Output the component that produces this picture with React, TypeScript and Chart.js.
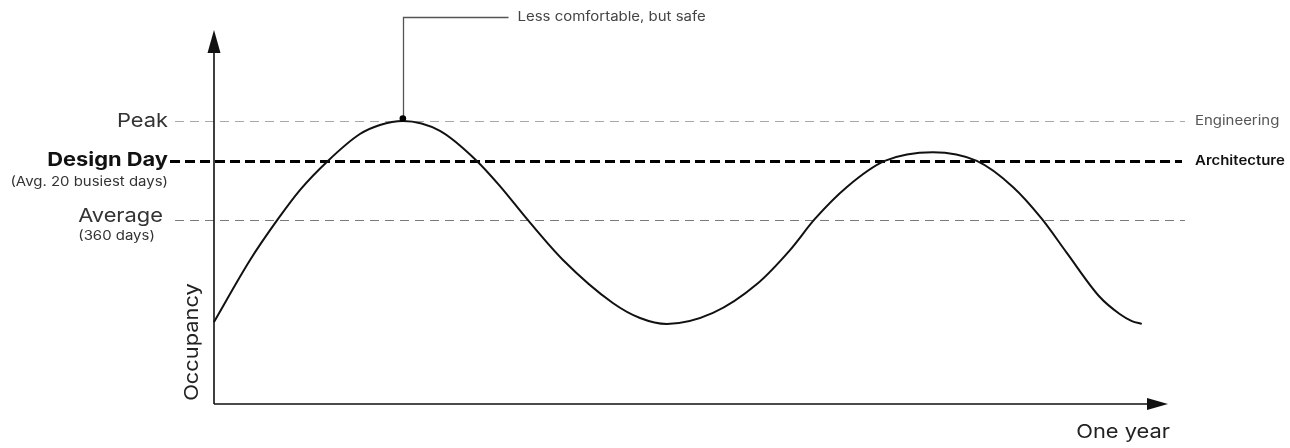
import React, { useEffect, useRef } from "react";
import { Chart, registerables } from "chart.js";

Chart.register(...registerables);

// ---- Data ----
const days = [0, 14.2, 25.2, 33.8, 44.8, 57.4, 65.3, 74.3, 88.9, 103.4, 112.5, 123.1, 137.3, 156.9, 167.6, 178.2, 196.3, 213.6, 226.6, 236.4, 249.0, 263.9, 282.8, 300.1, 314.3, 325.7, 335.5, 348.5, 356.3, 361.1, 365];
const occupancy = [29.0, 50.9, 65.4, 75.6, 85.9, 95.4, 98.6, 100, 96.5, 85.9, 77.0, 65.4, 50.9, 35.7, 30.4, 28.3, 32.2, 42.4, 54.4, 65.4, 76.7, 85.9, 89.0, 85.9, 76.7, 65.4, 53.4, 37.8, 31.8, 29.3, 28.3];

const levelNames = ["Peak", "Design Day", "Average"];
const levelValues = [100, 86, 65];
const levelSubtitles = ["", "(Avg. 20 busiest days)", "(360 days)"];
const rightLabels = ["Engineering", "Architecture", ""];

const annotationText = "Less comfortable, but safe";
const xAxisTitle = "One year";
const yAxisTitle = "Occupancy";

const FONT = "Inter, 'Noto Sans', sans-serif";
const SX = 1.15;

const peakIndex = occupancy.indexOf(Math.max(...occupancy));

function drawText(ctx: CanvasRenderingContext2D, text: string, x: number, y: number, align: CanvasTextAlign) {
  ctx.save();
  ctx.translate(x, y);
  ctx.scale(SX, 1);
  ctx.textAlign = align;
  ctx.fillText(text, 0, 0);
  ctx.restore();
}

const decorPlugin = {
  id: "decor",
  beforeDatasetsDraw(chart: any) {
    const ctx = chart.ctx;
    const { left, right, bottom } = chart.chartArea;
    const y = chart.scales.y;
    ctx.save();
    const styles = [
      { color: "#a8a8a8", width: 1, dash: [9, 6], start: left - 39, end: right },
      { color: "#000000", width: 3, dash: [10, 5], start: left - 44, end: right - 3 },
      { color: "#7a7a7a", width: 1, dash: [9, 6], start: left - 39, end: right },
    ];
    levelValues.forEach((v, i) => {
      const s = styles[i];
      const py = Math.round(y.getPixelForValue(v)) + (s.width % 2 ? 0.5 : 0);
      ctx.beginPath();
      ctx.setLineDash(s.dash);
      ctx.strokeStyle = s.color;
      ctx.lineWidth = s.width;
      ctx.moveTo(s.start, py);
      ctx.lineTo(s.end, py);
      ctx.stroke();
    });
    ctx.setLineDash([]);

    // axes
    ctx.strokeStyle = "#111";
    ctx.fillStyle = "#111";
    ctx.lineWidth = 1.6;
    const ax = left;
    const ay = bottom;
    const yTip = 30;
    const xTip = right - 17;
    ctx.beginPath();
    ctx.moveTo(ax, ay);
    ctx.lineTo(ax, yTip + 10);
    ctx.moveTo(ax, ay);
    ctx.lineTo(xTip - 10, ay);
    ctx.stroke();
    ctx.beginPath();
    ctx.moveTo(ax, yTip);
    ctx.lineTo(ax - 6.5, yTip + 23);
    ctx.lineTo(ax + 6.5, yTip + 23);
    ctx.closePath();
    ctx.fill();
    ctx.beginPath();
    ctx.moveTo(xTip, ay);
    ctx.lineTo(xTip - 21, ay - 6);
    ctx.lineTo(xTip - 21, ay + 6);
    ctx.closePath();
    ctx.fill();
    ctx.restore();
  },
  afterDraw(chart: any) {
    const ctx = chart.ctx as CanvasRenderingContext2D;
    const { left, right, bottom } = chart.chartArea;
    const y = chart.scales.y;
    ctx.save();
    ctx.textBaseline = "middle";

    const mainFonts = [`400 19px ${FONT}`, `700 19px ${FONT}`, `400 19px ${FONT}`];
    levelValues.forEach((v, i) => {
      const py = y.getPixelForValue(v);
      ctx.fillStyle = i === 1 ? "#111" : "#333";
      ctx.font = mainFonts[i];
      const labelRight = i === 2 ? left - 51 : left - 46;
      const ly = i === 2 ? py - 4 : py;
      drawText(ctx, levelNames[i], labelRight, ly, "right");
      if (levelSubtitles[i]) {
        ctx.fillStyle = "#333";
        if (i === 2) {
          const mw = ctx.measureText(levelNames[i]).width * SX;
          ctx.font = `400 13px ${FONT}`;
          drawText(ctx, levelSubtitles[i], labelRight - mw, ly + 20, "left");
        } else {
          ctx.font = `400 13px ${FONT}`;
          drawText(ctx, levelSubtitles[i], labelRight, ly + 21, "right");
        }
      }
      if (rightLabels[i]) {
        ctx.font = i === 1 ? `600 13px ${FONT}` : `400 13px ${FONT}`;
        ctx.fillStyle = i === 1 ? "#111" : "#555";
        drawText(ctx, rightLabels[i], right + 10, py, "left");
      }
    });

    // annotation leader
    const meta = chart.getDatasetMeta(0);
    const pt = meta.data[peakIndex];
    const px = Math.round(pt.x) + 0.5;
    const topY = 17.5;
    ctx.strokeStyle = "#555";
    ctx.lineWidth = 1.3;
    ctx.beginPath();
    ctx.moveTo(px, pt.y - 3);
    ctx.lineTo(px, topY);
    ctx.lineTo(px + 105, topY);
    ctx.stroke();
    ctx.fillStyle = "#000";
    ctx.beginPath();
    ctx.arc(pt.x, pt.y - 2.5, 3.3, 0, Math.PI * 2);
    ctx.fill();
    ctx.fillStyle = "#444";
    ctx.font = `400 13px ${FONT}`;
    drawText(ctx, annotationText, px + 114, topY, "left");

    // axis titles
    ctx.fillStyle = "#222";
    ctx.font = `400 19px ${FONT}`;
    drawText(ctx, xAxisTitle, right - 15, bottom + 28, "right");

    ctx.save();
    ctx.translate(left - 22, bottom - 62);
    ctx.rotate(-Math.PI / 2);
    drawText(ctx, yAxisTitle, 0, 0, "center");
    ctx.restore();
    ctx.restore();
  },
};

export default function App() {
  const canvasRef = useRef<HTMLCanvasElement>(null);

  useEffect(() => {
    document.body.style.margin = "0";
    const canvas = canvasRef.current;
    if (!canvas) return;
    const chart = new Chart(canvas, {
      type: "line",
      data: {
        datasets: [
          {
            data: days.map((d, i) => ({ x: d, y: occupancy[i] })),
            borderColor: "#111",
            borderWidth: 2,
            pointRadius: 0,
            cubicInterpolationMode: "monotone",
            fill: false,
            clip: false as any,
          },
        ],
      },
      options: {
        responsive: false,
        animation: false,
        layout: { padding: { left: 214, right: 105, top: 121, bottom: 44 } },
        plugins: { legend: { display: false }, tooltip: { enabled: false } },
        scales: {
          x: { type: "linear", min: 0, max: 382, display: false },
          y: { type: "linear", min: 0, max: 100, display: false },
        },
      },
      plugins: [decorPlugin],
    });
    return () => chart.destroy();
  }, []);

  return (
    <div style={{ width: 1290, height: 448, background: "#fff" }}>
      <canvas ref={canvasRef} width={1290} height={448} style={{ display: "block" }} />
    </div>
  );
}
